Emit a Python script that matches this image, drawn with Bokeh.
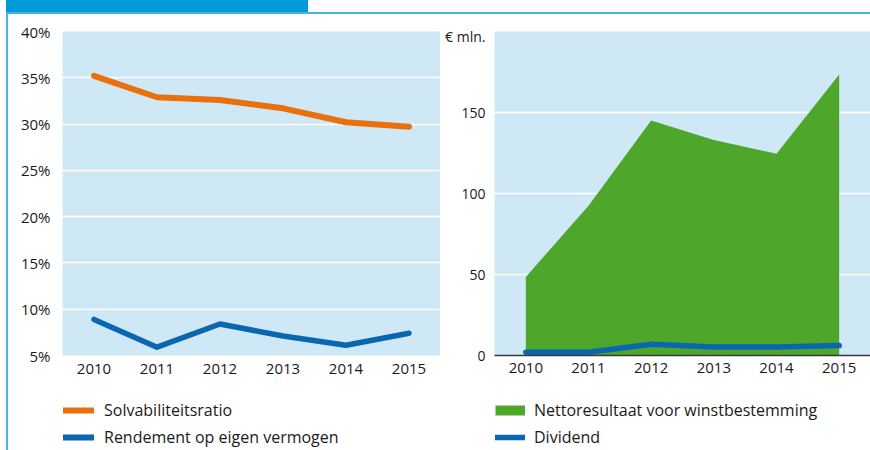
from bokeh.plotting import figure
from bokeh.layouts import row, column
from bokeh.models import Div, Legend, LegendItem, FactorRange, Range1d, FixedTicker
from bokeh.embed import file_html
from bokeh.resources import INLINE

# ---- data ----
years = ["2010", "2011", "2012", "2013", "2014", "2015"]
solvabiliteitsratio = [35.2, 32.9, 32.6, 31.7, 30.2, 29.7]
rendement = [8.9, 5.9, 8.4, 7.1, 6.1, 7.4]
nettoresultaat = [48.5, 92.5, 145.0, 133.0, 124.5, 173.5]
dividend = [2.0, 2.0, 7.0, 5.3, 5.3, 6.1]
left_ticks = [5, 10, 15, 20, 25, 30, 35, 40]
left_tick_labels = ["5%", "10%", "15%", "20%", "25%", "30%", "35%", "40%"]
right_ticks = [0, 50, 100, 150]
right_tick_labels = ["0", "50", "100", "150"]
unit_pos = 197
unit_label = "€ mln."
left_names = ["Solvabiliteitsratio", "Rendement op eigen vermogen"]
right_names = ["Nettoresultaat voor winstbestemming", "Dividend"]

# ---- styles ----
FONT = "Open Sans"
TXT = "#1a1a1a"
BG = "#cfe8f6"
ORANGE = "#e9700c"
BLUE = "#0b66b0"
GREEN = "#4ea72b"
BAR = "#009ad9"
LINEC = "#45b3e6"


def style(p):
    p.background_fill_color = BG
    p.border_fill_color = "white"
    p.outline_line_color = None
    p.xgrid.grid_line_color = None
    p.ygrid.grid_line_color = "white"
    p.ygrid.grid_line_width = 1.5
    for ax in (p.xaxis[0], p.yaxis[0]):
        ax.major_tick_line_color = None
        ax.minor_tick_line_color = None
        ax.major_label_text_font = FONT
        ax.major_label_text_font_size = "15px"
        ax.major_label_text_color = TXT


def legend_fig(width, specs, left, standoff, glyph_width):
    f = figure(width=width, height=60, x_range=FactorRange(*years), y_range=Range1d(0, 1),
               x_axis_type=None, y_axis_type=None, toolbar_location=None,
               output_backend="svg", min_border_left=left, min_border_top=9,
               min_border_right=0, min_border_bottom=0)
    f.outline_line_color = None
    f.background_fill_color = "white"
    f.border_fill_color = "white"
    items = []
    for label, ys, kw in specs:
        r = f.line(years, ys, visible=False, **kw)
        items.append(LegendItem(label=label, renderers=[r]))
    lg = Legend(items=items, location="top_left", orientation="vertical",
                padding=0, margin=0, spacing=5, border_line_color=None,
                background_fill_alpha=0, inactive_fill_alpha=0,
                glyph_width=glyph_width, glyph_height=20, label_height=20,
                label_standoff=standoff, label_text_font=FONT,
                label_text_font_size="16px", label_text_color=TXT)
    f.add_layout(lg)
    return f


# ---- left chart ----
lp = figure(width=432, height=376, x_range=FactorRange(*years),
            y_range=Range1d(5, 40), output_backend="svg",
            toolbar_location=None, min_border_left=54, min_border_right=0,
            min_border_top=17, min_border_bottom=35)
style(lp)
lp.yaxis.ticker = FixedTicker(ticks=left_ticks)
lp.yaxis.major_label_overrides = {t: s for t, s in zip(left_ticks, left_tick_labels)}
lp.yaxis.axis_line_color = None
lp.xaxis.axis_line_color = None
lp.yaxis.major_label_standoff = 6
lp.xaxis.major_label_standoff = 2
lp.line(years, solvabiliteitsratio, line_color=ORANGE, line_width=6,
        line_cap="round", line_join="round")
lp.line(years, rendement, line_color=BLUE, line_width=5.5,
        line_cap="round", line_join="round")

lp_leg = legend_fig(432, [
    (left_names[0], solvabiliteitsratio, dict(line_color=ORANGE, line_width=6, line_cap="round")),
    (left_names[1], rendement, dict(line_color=BLUE, line_width=6, line_cap="round")),
], 55, 10, 31)

# ---- right chart ----
rp = figure(width=430, height=376, x_range=FactorRange(*years),
            y_range=Range1d(0, 200), output_backend="svg",
            toolbar_location=None, min_border_left=54, min_border_right=0,
            min_border_top=17, min_border_bottom=34)
style(rp)
rp.yaxis.major_label_text_font_size = "14px"
rp.yaxis.ticker = FixedTicker(ticks=right_ticks + [unit_pos])
rp.ygrid.ticker = FixedTicker(ticks=right_ticks)
overrides = {t: s for t, s in zip(right_ticks, right_tick_labels)}
overrides[unit_pos] = unit_label
rp.yaxis.major_label_overrides = overrides
rp.yaxis.axis_line_color = None
rp.xaxis.axis_line_color = "#3a3a3a"
rp.xaxis.axis_line_width = 1.5
rp.yaxis.major_label_standoff = 3
rp.xaxis.major_label_standoff = 1
rp.varea(x=years, y1=[0] * len(years), y2=nettoresultaat, fill_color=GREEN)
rp.line(years, dividend, line_color=BLUE, line_width=5.5,
        line_cap="round", line_join="round")

rp_leg = legend_fig(430, [
    (right_names[0], nettoresultaat, dict(line_color=GREEN, line_width=10, line_cap="butt")),
    (right_names[1], dividend, dict(line_color=BLUE, line_width=5.5, line_cap="round")),
], 55, 9, 30)

# ---- frame decorations ----
def box(w, h, color=None):
    st = {"background-color": color} if color else {}
    return Div(width=w, height=h, margin=0, text="", styles=st)


header = row(box(6, 12), box(302, 12, BAR), box(562, 12), spacing=0)
topline = row(box(6, 2), box(864, 2, LINEC), spacing=0)
charts = row(box(6, 376), box(2, 376, LINEC), lp, rp, spacing=0)
legends = row(box(6, 60), box(2, 60, LINEC), lp_leg, rp_leg, spacing=0)
layout = column(header, topline, charts, legends, spacing=0)

with open("out.html", "w") as f:
    f.write(file_html(layout, INLINE))
